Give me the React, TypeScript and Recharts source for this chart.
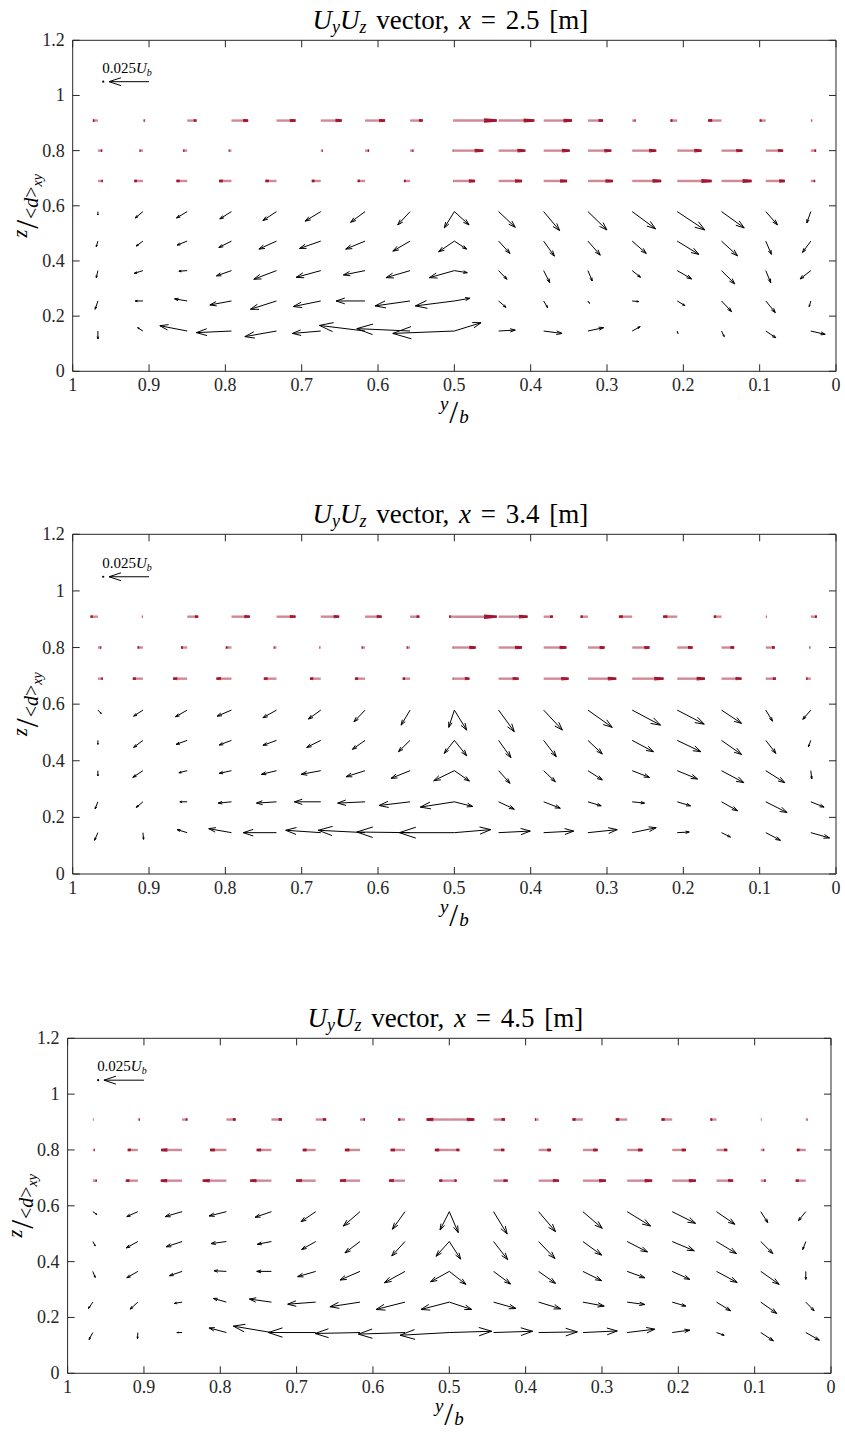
import React from "react";
import { ScatterChart, Scatter, XAxis, YAxis } from "recharts";

const SERIF = '"Liberation Serif", "DejaVu Serif", serif';
const INK = "#262626";
const RED = "#A2142F";

// y/b of each column (0.5 appears twice: both half-sections meet there)
const span = [0.967, 0.908, 0.85, 0.792, 0.733, 0.675, 0.617, 0.558, 0.5, 0.5, 0.442, 0.383, 0.325, 0.267, 0.208, 0.15, 0.092, 0.033];
// z/<d>_xy of each row, bottom to top; the top three rows are drawn red
const depth = [0.146, 0.255, 0.365, 0.472, 0.579, 0.69, 0.8, 0.909];
const redFromRow = 5;

const spanTicks = [0, 0.1, 0.2, 0.3, 0.4, 0.5, 0.6, 0.7, 0.8, 0.9, 1];
const depthTicks = [0, 0.2, 0.4, 0.6, 0.8, 1, 1.2];

// reference vector 0.025 Ub (values below are in 1e-3 Ub)
const refUy = 25;
const refSpan = 0.9;
const refDotSpan = 0.96;
const refDepth = 1.05;

// x = 2.5 m
const uyX25 = [
  [0, 3.3, 17.1, 21.9, 19.8, 17.7, 28.5, 33.3, 38.5, -16.7, -10.4, -11.5, -9.8, -5.0, -0.4, -1.7, -6.3, -9.0],
  [1.7, 4.8, 7.9, 13.5, 16.3, 17.1, 18.1, 21.9, 24.4, -9.8, -4.6, -2.5, -1.0, -4.0, -4.8, -6.3, -6.0, 1.0],
  [1.0, 5.4, 5.2, 9.4, 14.2, 15.4, 13.5, 15.0, 15.6, -8.1, -5.2, -3.8, -2.7, -5.2, -9.0, -8.3, -3.1, 6.7],
  [1.0, 4.2, 6.3, 7.9, 11.0, 13.3, 12.1, 10.8, 9.8, -7.7, -7.1, -6.7, -7.7, -8.8, -13.5, -10.0, -3.5, 5.2],
  [0, 4.8, 6.7, 7.3, 8.5, 9.8, 9.0, 7.7, 6.3, -9.2, -10.4, -10.0, -11.9, -14.6, -17.3, -14.2, -7.3, 2.5],
  [-3.1, 5.4, 6.7, 7.7, 6.9, 5.6, 4.6, 3.8, 0.6, -12.9, -14.6, -14.6, -15.6, -18.1, -21.5, -18.8, -11.9, -2.7],
  [-2.7, 2.1, 2.5, 1.7, 0.3, -1.3, -2.5, -2.1, 1.0, -18.1, -16.7, -16.3, -14.6, -15.0, -15.2, -13.1, -10.8, -3.3],
  [3.1, -1.3, -5.8, -10.4, -11.9, -13.1, -12.5, -7.9, 0.5, -26.5, -22.3, -17.7, -9.4, -2.1, 4.2, 8.3, 3.8, -0.8],
];
const uzX25 = [
  [-5.0, 2.1, 3.3, -1.0, -3.5, -1.5, 3.5, 1.5, -1.5, 5.2, 0.6, -1.5, 2.1, 2.7, -1.5, -3.5, -4.2, -2.1],
  [-5.2, 0, 1.3, -2.5, -5.2, -3.5, 0, -3.1, -3.1, 1.7, -4.0, -4.2, -1.5, -0.4, -2.9, -6.7, -7.3, -3.5],
  [-4.4, -1.7, -0.4, -3.3, -5.4, -4.2, -2.7, -4.4, -4.4, -1.3, -5.4, -7.5, -6.5, -4.2, -5.2, -8.3, -7.5, -5.2],
  [-3.5, -3.1, -2.5, -4.0, -5.0, -4.6, -5.0, -6.3, -6.7, -5.0, -7.7, -9.4, -8.8, -7.7, -8.3, -9.2, -8.3, -7.1],
  [-2.1, -4.0, -4.0, -4.6, -5.6, -6.0, -6.7, -8.3, -10.2, -8.3, -9.8, -11.9, -11.5, -10.8, -11.5, -10.2, -8.3, -7.1],
];

// x = 3.4 m
const uyX34 = [
  [2.1, -0.4, 6.3, 14.2, 20.8, 21.9, 29.2, 33.3, 34.4, -22.7, -19.8, -18.8, -18.3, -15.0, -7.5, -5.6, -9.2, -11.7],
  [1.7, 4.2, 4.6, 8.3, 12.5, 16.5, 17.1, 19.4, 21.3, -11.5, -9.8, -10.4, -8.3, -7.7, -8.3, -10.0, -13.3, -8.3],
  [0, 6.3, 5.2, 7.7, 9.4, 12.3, 11.9, 11.9, 12.9, -9.4, -7.1, -7.3, -9.0, -10.8, -12.7, -14.0, -11.9, -0.6],
  [0, 5.8, 6.9, 7.7, 8.5, 8.8, 7.9, 7.3, 6.3, -7.7, -7.7, -7.9, -9.0, -13.3, -14.8, -12.5, -6.3, 1.5],
  [-2.1, 5.8, 7.3, 9.0, 8.5, 7.7, 6.9, 5.6, 3.5, -7.7, -9.8, -11.7, -15.2, -17.7, -16.9, -12.5, -4.2, 5.0],
  [-3.1, 6.3, 8.8, 9.4, 7.9, 6.7, 6.3, 4.6, 1.0, -9.4, -12.5, -15.6, -17.7, -19.6, -17.3, -12.5, -6.3, 2.9],
  [-2.1, 3.3, 3.8, 3.5, 1.7, 0.8, 2.1, 2.1, 1.0, -13.3, -14.6, -14.2, -10.4, -10.8, -9.6, -7.9, -5.6, 0.8],
  [4.6, 0.6, -6.9, -11.5, -11.9, -11.5, -10.4, -5.8, 3.3, -26.5, -18.1, -5.8, 4.6, 8.3, 8.8, 4.8, -0.6, -3.8],
];
const uzX34 = [
  [-4.8, -4.2, 1.9, 2.5, 0, 1.5, 1.5, 0.4, 0, 1.9, 1.0, 1.0, 1.9, 3.1, 0.4, -2.7, -4.8, -3.3],
  [-4.4, -3.5, 0, -0.8, -0.8, 0, -0.8, -2.3, -3.3, -2.9, -4.6, -4.0, -2.5, -0.8, -2.5, -5.6, -6.7, -3.3],
  [-3.3, -4.2, -1.3, -1.7, -2.3, -2.3, -3.8, -4.8, -6.3, -6.5, -7.9, -6.9, -5.8, -4.2, -5.2, -7.5, -7.5, -5.2],
  [-2.5, -4.4, -2.5, -2.9, -3.1, -4.4, -5.6, -7.1, -8.1, -9.6, -10.8, -10.2, -8.5, -7.1, -7.1, -8.8, -8.1, -4.0],
  [-2.1, -3.8, -4.2, -3.8, -4.8, -5.6, -7.3, -9.4, -10.8, -12.5, -13.5, -12.5, -10.8, -9.4, -8.8, -8.3, -6.9, -5.8],
];

// x = 4.5 m
const uyX45 = [
  [2.3, 0.2, 3.3, 10.8, 23.8, 29.6, 28.1, 29.2, 30.8, -26.5, -24.4, -24.2, -21.5, -17.3, -11.0, -4.8, -7.9, -8.5],
  [2.7, 4.8, 4.8, 8.1, 13.8, 17.5, 18.8, 18.1, 17.7, -14.0, -14.0, -13.8, -13.3, -11.0, -8.5, -8.8, -10.0, -5.2],
  [-1.5, 6.9, 7.9, 7.7, 9.2, 11.3, 12.5, 12.9, 11.7, -10.4, -10.6, -10.6, -11.7, -11.0, -11.0, -12.9, -11.5, 0],
  [-1.5, 7.3, 10.0, 9.6, 8.8, 8.8, 9.4, 8.3, 8.3, -7.1, -8.8, -10.2, -11.7, -12.7, -13.8, -12.5, -7.5, 1.9],
  [-2.5, 6.9, 10.6, 10.8, 10.2, 9.2, 10.4, 7.9, 5.8, -5.6, -8.5, -10.6, -12.1, -14.6, -14.6, -11.5, -4.4, 4.6],
  [-2.5, 7.5, 13.3, 14.8, 13.3, 12.3, 12.5, 10.0, 6.3, -4.6, -8.8, -12.7, -14.4, -15.6, -14.8, -10.4, -3.1, 6.3],
  [-1.3, 6.3, 13.1, 10.2, 9.2, 8.1, 9.4, 9.0, 9.0, -6.3, -6.7, -7.7, -9.2, -9.6, -8.5, -6.7, -2.1, 5.6],
  [-0.4, -1.3, -3.3, -5.8, -6.5, -6.5, -3.1, 4.2, 14.2, -15.6, -7.1, 2.3, 6.5, 7.1, 6.7, 3.8, -0.4, -1.0],
];
const uzX45 = [
  [-4.4, -3.8, 0, 2.9, 4.0, 0, -0.6, -1.0, -1.7, 0.8, 0.8, 0.4, 1.0, 2.1, 1.5, -1.7, -5.2, -4.8],
  [-4.0, -4.4, -0.8, 2.3, 1.9, -1.3, -2.9, -4.6, -4.6, -4.6, -4.0, -4.2, -2.5, -1.5, -2.5, -5.4, -7.1, -5.4],
  [-3.8, -4.0, -2.7, 0.4, 0, -3.3, -5.4, -7.1, -6.5, -8.1, -7.9, -7.5, -5.8, -4.0, -5.0, -6.9, -8.1, -5.0],
  [-2.7, -4.0, -3.3, -1.3, -1.7, -5.0, -7.1, -9.0, -9.2, -11.0, -11.3, -10.6, -8.5, -6.5, -5.8, -7.5, -7.5, -5.0],
  [-1.7, -3.1, -3.1, -2.7, -3.5, -6.3, -9.0, -11.0, -11.5, -13.1, -14.0, -12.5, -10.4, -9.0, -7.3, -7.9, -6.9, -5.6],
];

const PX_PER_UNIT = 1.6; // quiver scale: pixels per 1e-3 Ub
const TICK_LEN = 7;

type Vec = { y: number; z: number; uy: number; uz: number; red: boolean };

function buildField(uy: number[][], uz: number[][]): Vec[] {
  const pts: Vec[] = [];
  depth.forEach((z, r) => {
    span.forEach((y, c) => {
      // red rows (near the surface) have no vertical component
      pts.push({ y, z, uy: uy[r][c], uz: uz[r]?.[c] ?? 0, red: r >= redFromRow });
    });
  });
  return pts;
}

function QuiverArrow(props: any) {
  const { cx, cy, payload } = props;
  if (cx == null || cy == null) return <g />;
  // y/b axis is reversed, so +Uy points left on screen
  const dx = -payload.uy * PX_PER_UNIT;
  const dy = -payload.uz * PX_PER_UNIT;
  if (Math.hypot(dx, dy) < 0.6) return <g />;
  const ex = cx + dx;
  const ey = cy + dy;
  const a = 0.3;
  const b = payload.red ? 0.08 : 0.33;
  const h1 = `${ex - a * (dx + b * dy)},${ey - a * (dy - b * dx)}`;
  const h2 = `${ex - a * (dx - b * dy)},${ey - a * (dy + b * dx)}`;
  if (payload.red) {
    return (
      <g>
        <line x1={cx} y1={cy} x2={ex} y2={ey} stroke={RED} strokeOpacity={0.5} strokeWidth={2.4} />
        <polyline points={`${h1} ${ex},${ey} ${h2}`} fill="none" stroke={RED} strokeWidth={2.4} />
      </g>
    );
  }
  return (
    <g>
      <line x1={cx} y1={cy} x2={ex} y2={ey} stroke="#000" strokeWidth={1} />
      <polyline points={`${h1} ${ex},${ey} ${h2}`} fill="none" stroke="#000" strokeWidth={1} />
    </g>
  );
}

function RefDot(props: any) {
  const { cx, cy } = props;
  if (cx == null) return <g />;
  return (
    <g>
      <circle cx={cx} cy={cy} r={1.1} fill="#000" />
      <text x={cx - 1} y={cy - 9} fontFamily={SERIF} fontSize={15} fill="#000">
        0.025
        <tspan fontStyle="italic">U</tspan>
        <tspan fontStyle="italic" fontSize={10} dy={3}>b</tspan>
      </text>
    </g>
  );
}

const fmt = (v: number) => String(Number(v.toFixed(1)));

// inward MATLAB-style ticks; axes use tickSize/tickMargin 0 so x/y sit on the axis line
function BottomTick({ x, y, payload }: any) {
  return (
    <g>
      <line x1={x} y1={y} x2={x} y2={y - TICK_LEN} stroke={INK} />
      <text x={x} y={y + 20} textAnchor="middle" fontFamily={SERIF} fontSize={18} fill={INK}>
        {fmt(payload.value)}
      </text>
    </g>
  );
}
function LeftTick({ x, y, payload }: any) {
  return (
    <g>
      <line x1={x} y1={y} x2={x + TICK_LEN} y2={y} stroke={INK} />
      <text x={x - 8} y={y + 6} textAnchor="end" fontFamily={SERIF} fontSize={18} fill={INK}>
        {fmt(payload.value)}
      </text>
    </g>
  );
}
function TopTick({ x, y }: any) {
  return <line x1={x} y1={y} x2={x} y2={y + TICK_LEN} stroke={INK} />;
}
function RightTick({ x, y }: any) {
  return <line x1={x} y1={y} x2={x - TICK_LEN} y2={y} stroke={INK} />;
}

function Title({ viewBox, station }: any) {
  if (!viewBox) return null;
  const cx = viewBox.x + viewBox.width / 2;
  const y = viewBox.y + viewBox.height - 11;
  return (
    <text x={cx - 4} y={y} textAnchor="middle" fontFamily={SERIF} fontSize={27} fill="#000" wordSpacing={3}>
      <tspan fontStyle="italic">U</tspan>
      <tspan fontStyle="italic" fontSize={18} dy={4}>y</tspan>
      <tspan fontStyle="italic" dy={-4}>U</tspan>
      <tspan fontStyle="italic" fontSize={18} dy={4}>z</tspan>
      <tspan dy={-4}> vector, </tspan>
      <tspan fontStyle="italic">x</tspan>
      <tspan> = {station} [m]</tspan>
    </text>
  );
}

function SpanLabel({ viewBox }: any) {
  if (!viewBox) return null;
  const cx = viewBox.x + viewBox.width / 2;
  const y = viewBox.y;
  return (
    <text x={cx} y={y + 39} textAnchor="middle" fontFamily={SERIF} fontSize={19} fill="#000">
      <tspan fontStyle="italic">y</tspan>
      <tspan fontSize={32} dy={13} dx={1}>/</tspan>
      <tspan fontStyle="italic" dx={1}>b</tspan>
    </text>
  );
}

function DepthLabel({ viewBox }: any) {
  if (!viewBox) return null;
  const x = viewBox.x + viewBox.width - 37;
  const cy = viewBox.y + viewBox.height / 2;
  return (
    <text
      transform={`translate(${x},${cy}) rotate(-90)`}
      x={0}
      y={0}
      textAnchor="middle"
      fontFamily={SERIF}
      fontSize={20}
      fill="#000"
    >
      <tspan fontStyle="italic" dy={-9}>z</tspan>
      <tspan fontSize={32} dy={11} dx={1}>/</tspan>
      <tspan dx={1}>&lt;</tspan>
      <tspan fontStyle="italic">d</tspan>
      <tspan>&gt;</tspan>
      <tspan fontStyle="italic" fontSize={14} dy={4}>xy</tspan>
    </text>
  );
}

const CHART_W = 845;
const BOTTOM = 62;
const XAXIS_H = 30;
const YAXIS_W = 40;
const TOP_H = 30;
const RIGHT_W = 6;

type PanelProps = {
  station: string;
  uy: number[][];
  uz: number[][];
  top: number;
  plotLeft: number;
  plotTop: number;
  plotWidth: number;
  plotHeight: number;
};

function Panel({ station, uy, uz, top, plotLeft, plotTop, plotWidth, plotHeight }: PanelProps) {
  const field = buildField(uy, uz);
  const refArrow = [{ y: refSpan, z: refDepth, uy: refUy, uz: 0, red: false }];
  const refDot = [{ y: refDotSpan, z: refDepth }];
  const height = plotTop + plotHeight + BOTTOM;
  const common = { type: "number" as const, interval: 0 as const, tickSize: 0, tickMargin: 0, tickLine: false, stroke: INK };
  return (
    <div style={{ position: "absolute", left: 0, top, width: CHART_W, height, fontFamily: SERIF }}>
      <ScatterChart
        width={CHART_W}
        height={height}
        margin={{
          top: plotTop - TOP_H,
          right: CHART_W - plotLeft - plotWidth - RIGHT_W,
          bottom: BOTTOM - XAXIS_H,
          left: plotLeft - YAXIS_W,
        }}
      >
        <XAxis
          {...common}
          dataKey="y"
          domain={[0, 1]}
          reversed
          ticks={spanTicks}
          height={XAXIS_H}
          tick={<BottomTick />}
          label={(p: any) => <SpanLabel viewBox={p.viewBox} />}
        />
        <XAxis
          {...common}
          xAxisId="top"
          orientation="top"
          dataKey="y"
          domain={[0, 1]}
          reversed
          ticks={spanTicks}
          height={TOP_H}
          tick={<TopTick />}
          label={(p: any) => <Title viewBox={p.viewBox} station={station} />}
        />
        <YAxis
          {...common}
          dataKey="z"
          domain={[0, 1.2]}
          ticks={depthTicks}
          width={YAXIS_W}
          tick={<LeftTick />}
          label={(p: any) => <DepthLabel viewBox={p.viewBox} />}
        />
        <YAxis
          {...common}
          yAxisId="right"
          orientation="right"
          dataKey="z"
          domain={[0, 1.2]}
          ticks={depthTicks}
          width={RIGHT_W}
          tick={<RightTick />}
        />
        <Scatter data={field} shape={QuiverArrow} isAnimationActive={false} />
        <Scatter data={refArrow} xAxisId="top" yAxisId="right" shape={QuiverArrow} isAnimationActive={false} />
        <Scatter data={refDot} xAxisId="top" yAxisId="right" shape={RefDot} isAnimationActive={false} />
      </ScatterChart>
    </div>
  );
}

export default function App() {
  return (
    <div style={{ position: "absolute", left: 0, top: 0, width: 845, height: 1435, background: "#fff" }}>
      <Panel station="2.5" uy={uyX25} uz={uzX25} top={0} plotLeft={72.7} plotTop={40.3} plotWidth={763.3} plotHeight={331} />
      <Panel station="3.4" uy={uyX34} uz={uzX34} top={490} plotLeft={72.7} plotTop={44.3} plotWidth={763.3} plotHeight={339.7} />
      <Panel station="4.5" uy={uyX45} uz={uzX45} top={990} plotLeft={67.6} plotTop={48.3} plotWidth={763.4} plotHeight={335} />
    </div>
  );
}
